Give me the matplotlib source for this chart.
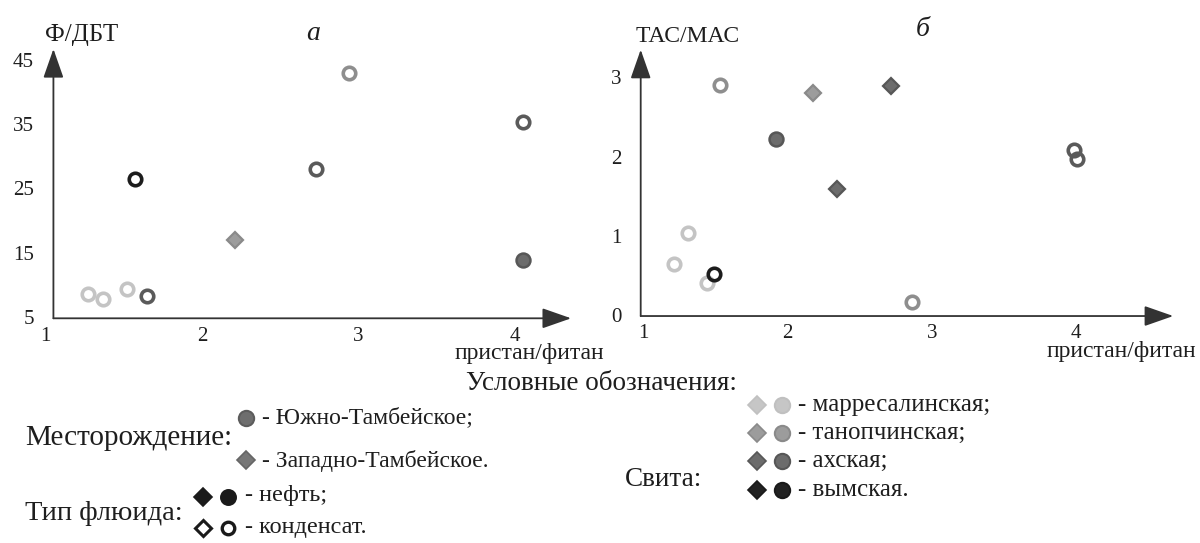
import matplotlib
matplotlib.use("Agg")
import matplotlib.pyplot as plt

plt.rcParams['font.family'] = ['Liberation Serif', 'DejaVu Serif']

# ---------------- data ----------------
# panel a: pristane/phytane vs Ф/ДБТ
a_pf = [1.27, 1.37, 1.52, 1.65, 1.57, 2.21, 2.73, 2.94, 4.05, 4.05]
a_fdbt = [8.6, 7.8, 9.3, 8.2, 26.5, 17.0, 28.0, 43.0, 35.3, 13.8]
a_suite = ['марр', 'марр', 'марр', 'ахс', 'вым', 'тан', 'ахс', 'тан', 'ахс', 'ахс']
a_field = ['ЮТ', 'ЮТ', 'ЮТ', 'ЮТ', 'ЮТ', 'ЗТ', 'ЮТ', 'ЮТ', 'ЮТ', 'ЮТ']
a_fluid = ['к', 'к', 'к', 'к', 'к', 'н', 'к', 'к', 'к', 'н']

# panel б: pristane/phytane vs ТАС/МАС
b_pf = [1.53, 2.18, 2.72, 1.92, 2.34, 3.99, 4.01, 1.31, 1.21, 1.44, 1.49, 2.86]
b_tas = [2.91, 2.80, 2.89, 2.22, 1.59, 2.08, 1.97, 1.03, 0.64, 0.41, 0.52, 0.16]
b_suite = ['тан', 'тан', 'ахс', 'ахс', 'ахс', 'ахс', 'ахс', 'марр', 'марр', 'марр', 'вым', 'тан']
b_field = ['ЮТ', 'ЗТ', 'ЗТ', 'ЮТ', 'ЗТ', 'ЮТ', 'ЮТ', 'ЮТ', 'ЮТ', 'ЮТ', 'ЮТ', 'ЮТ']
b_fluid = ['к', 'н', 'н', 'н', 'н', 'к', 'к', 'к', 'к', 'к', 'к', 'к']

a_xticks = [1, 2, 3, 4]
a_yticks = [5, 15, 25, 35, 45]
b_xticks = [1, 2, 3, 4]
b_yticks = [0, 1, 2, 3]

suite_names = ['марр', 'тан', 'ахс', 'вым']
suite_labels = ['- марресалинская;', '- танопчинская;', '- ахская;', '- вымская.']

# ---------------- styles ----------------
FILL = {'марр': '#c6c6c6', 'тан': '#9c9c9c', 'ахс': '#6c6c6c', 'вым': '#222222'}
EDGE = {'марр': '#c0c0c0', 'тан': '#8a8a8a', 'ахс': '#575757', 'вым': '#1a1a1a'}
RING = {'марр': '#c4c4c4', 'тан': '#8e8e8e', 'ахс': '#5a5a5a', 'вым': '#1c1c1c'}
AXC = '#333333'
TXT = '#1e1e1e'

W, H = 1200, 543
fig = plt.figure(figsize=(12, 5.43), dpi=100)


def add_px_axes(x0, y0, x1, y1):
    return fig.add_axes([x0 / W, 1 - y1 / H, (x1 - x0) / W, (y1 - y0) / H])


def draw_points(ax, xs, ys, suites, fields, fluids):
    for i, (x, y, s, f, fl) in enumerate(zip(xs, ys, suites, fields, fluids)):
        if f == 'ЗТ':
            ax.plot(x, y, marker='D', ms=8.6, mfc=FILL[s], mec=EDGE[s], mew=1.6,
                    ls='none', zorder=3 + i * 0.01, clip_on=False)
        elif fl == 'н':
            ax.plot(x, y, marker='o', ms=10.0, mfc=FILL[s], mec=EDGE[s], mew=1.8,
                    ls='none', zorder=3 + i * 0.01, clip_on=False)
        else:
            ax.plot(x, y, marker='o', ms=9.0, mfc='none', mec=RING[s], mew=2.6,
                    ls='none', zorder=3 + i * 0.01, clip_on=False)


def style_axes(ax, xorig, yorig, xtip, ytip, xt, yt):
    for s in ['top', 'right']:
        ax.spines[s].set_visible(False)
    ax.spines['bottom'].set_position(('data', yorig))
    ax.spines['left'].set_position(('data', xorig))
    ax.spines['bottom'].set_color('none')
    ax.spines['left'].set_color('none')
    ax.set_facecolor('none')
    ax.set_xticks(xt)
    ax.set_yticks(yt)
    ax.tick_params(axis='x', length=0, pad=6, labelsize=15, labelcolor=TXT)
    ax.tick_params(axis='y', length=0, pad=14, labelsize=15, labelcolor=TXT)
    ap = dict(arrowstyle='-|>,head_length=1.2,head_width=0.42', lw=1.3,
              color=AXC, shrinkA=0, shrinkB=0, mutation_scale=15)
    ax.annotate('', xy=(xtip, yorig), xytext=(xorig, yorig), arrowprops=ap,
                annotation_clip=False)
    ax.annotate('', xy=(xorig, ytip), xytext=(xorig, yorig), arrowprops=ap,
                annotation_clip=False)


# ---- panel a ----
# calibration: x=1 at px 45.6, 156.4 px/unit; y=5 at py 316.7, 6.42 px/unit
axA = add_px_axes(30, 20, 580, 350)
axA.set_xlim(1 + (30 - 45.6) / 156.4, 1 + (580 - 45.6) / 156.4)
axA.set_ylim(5 + (316.7 - 350) / 6.42, 5 + (316.7 - 20) / 6.42)
style_axes(axA, 1.05, 4.75, 4.36, 46.7, a_xticks, a_yticks)
draw_points(axA, a_pf, a_fdbt, a_suite, a_field, a_fluid)

# ---- panel б ----
# calibration: x=1 at px 643.3, 144.2 px/unit; y=0 at py 315, 79.2 px/unit
axB = add_px_axes(600, 20, 1190, 350)
axB.set_xlim(1 + (600 - 643.3) / 144.2, 1 + (1190 - 643.3) / 144.2)
axB.set_ylim((315 - 350) / 79.2, (315 - 20) / 79.2)
style_axes(axB, 0.982, -0.013, 4.675, 3.35, b_xticks, b_yticks)
draw_points(axB, b_pf, b_tas, b_suite, b_field, b_fluid)

# ---- overlay for titles / legend in pixel coordinates ----
ov = fig.add_axes([0, 0, 1, 1])
ov.set_xlim(0, W)
ov.set_ylim(H, 0)
ov.axis('off')
ov.set_zorder(5)

def T(x, y, s, size=17, ha='left', va='center', **kw):
    ov.text(x, y, s, fontsize=size, ha=ha, va=va, color=TXT, **kw)

T(82, 35, 'Ф/ДБТ', size=18, ha='center')
T(313, 33, 'а', size=20, ha='center', style='italic')
T(688, 37, 'ТАС/МАС', size=17, ha='center')
T(923, 30, 'б', size=20, ha='center', style='italic')
T(455, 354, 'пристан/фитан', size=17)
T(1047, 352, 'пристан/фитан', size=17)

T(601, 383, 'Условные обозначения:', size=19.5, ha='center')

T(25, 438, 'Месторождение:', size=21)
ov.plot(246, 418, marker='o', ms=11, mfc='#6e6e6e', mec='#5c5c5c', mew=1.5, ls='none')
T(262, 418, '- Южно-Тамбейское;', size=17)
ov.plot(246, 460, marker='D', ms=9.5, mfc='#777777', mec='#666666', mew=1.2, ls='none')
T(262, 461, '- Западно-Тамбейское.', size=17)

T(25, 513, 'Тип флюида:', size=20.5)
ov.plot(203, 497, marker='D', ms=9.5, mfc='#1a1a1a', mec='#1a1a1a', mew=1.2, ls='none')
ov.plot(228, 497, marker='o', ms=11, mfc='#1a1a1a', mec='#1a1a1a', mew=1.2, ls='none')
T(245, 495, '- нефть;', size=17.5)
ov.plot(203, 528, marker='D', ms=8, mfc='none', mec='#1a1a1a', mew=2.2, ls='none')
ov.plot(228, 528, marker='o', ms=9, mfc='none', mec='#1a1a1a', mew=2.4, ls='none')
T(245, 527, '- конденсат.', size=17.5)

T(625, 479, 'Свита:', size=19.5)
rows_y = [405, 433, 461, 490]
for yy, sn, lab in zip(rows_y, suite_names, suite_labels):
    ov.plot(757, yy, marker='D', ms=9.5, mfc=FILL[sn], mec=EDGE[sn], mew=1.2, ls='none')
    ov.plot(782, yy, marker='o', ms=11, mfc=FILL[sn], mec=EDGE[sn], mew=1.5, ls='none')
    T(798, yy, lab, size=18)

fig.savefig('out.png', dpi=100)
